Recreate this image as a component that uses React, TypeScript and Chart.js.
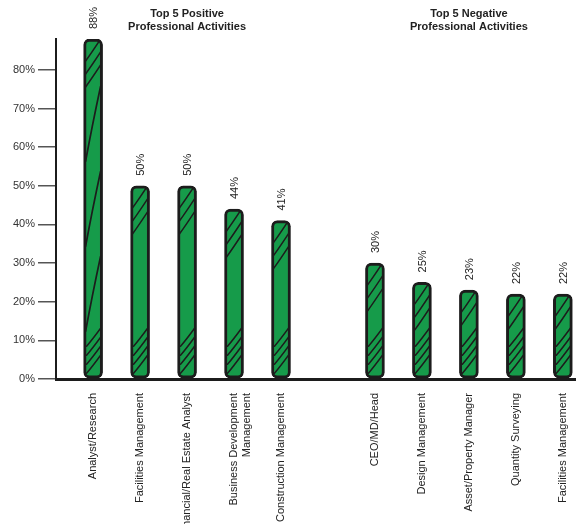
import React, { useEffect, useRef } from "react";
import { Chart, registerables } from "chart.js";

Chart.register(...registerables);

// Job categories, their slot on the x axis (slot 5 is the gap between groups) and the share in %
const categories: (string | string[])[] = [
  "Analyst/Research",
  "Facilities Management",
  "Financial/Real Estate Analyst",
  ["Business Development", "Management"],
  "Construction Management",
  "CEO/MD/Head",
  "Design Management",
  "Asset/Property Manager",
  "Quantity Surveying",
  "Facilities Management",
];
const positions = [0, 1, 2, 3, 4, 6, 7, 8, 9, 10];
const values = [88, 50, 50, 44, 41, 30, 25, 23, 22, 22];

const groupTitles = [
  ["Top 5 Positive", "Professional Activities"],
  ["Top 5 Negative", "Professional Activities"],
];
const groupCenters = [2, 8];

const yTicks = [0, 10, 20, 30, 40, 50, 60, 70, 80];

const FONT = "'Liberation Sans', Arial, sans-serif";
const INK = "#1c1c1c";
const GREEN = "#169b4a";

// Percent labels written upward above each bar
const valueLabels = {
  id: "valueLabels",
  afterDatasetsDraw(chart: any) {
    const { ctx } = chart;
    const meta = chart.getDatasetMeta(0);
    ctx.save();
    ctx.font = `11px ${FONT}`;
    ctx.fillStyle = "#222";
    ctx.textAlign = "left";
    ctx.textBaseline = "middle";
    meta.data.forEach((bar: any, i: number) => {
      ctx.save();
      ctx.translate(bar.x + 1, bar.y - 10);
      ctx.rotate(-Math.PI / 2);
      ctx.fillText(`${values[i]}%`, 0, 0);
      ctx.restore();
    });
    ctx.restore();
  },
};

// Pencil-like strokes inside each bar
const sketchStrokes = {
  id: "sketchStrokes",
  afterDatasetsDraw(chart: any) {
    const { ctx } = chart;
    const meta = chart.getDatasetMeta(0);
    ctx.save();
    ctx.strokeStyle = INK;
    ctx.lineCap = "round";
    meta.data.forEach((bar: any) => {
      const w = bar.width;
      const left = bar.x - w / 2 + 2;
      const right = bar.x + w / 2 - 2;
      const top = bar.y + 2;
      const base = bar.base - 2;
      const h = base - top;
      ctx.save();
      ctx.beginPath();
      ctx.rect(left, top, right - left, base - top);
      ctx.clip();
      const stroke = (x0: number, y0: number, x1: number, y1: number) => {
        ctx.beginPath();
        ctx.moveTo(x0, y0);
        ctx.quadraticCurveTo((x0 + x1) / 2 - 1, (y0 + y1) / 2 + 2, x1, y1);
        ctx.stroke();
      };
      ctx.lineWidth = 1.5;
      // hatching just under the top of the bar
      for (let k = 0; k < 3; k++) {
        const y0 = top + 20 + k * 13;
        if (y0 < base - 45) stroke(left, y0, right, y0 - 22);
      }
      // hatching near the foot of the bar
      for (let k = 0; k < 4; k++) {
        const yb = base - 3 - k * 9;
        stroke(left + 1, yb, right, yb - 18);
      }
      // long strokes through the middle of tall bars
      if (h > 200) {
        ctx.lineWidth = 1.7;
        let s = base - 45;
        while (s > top + 80) {
          stroke(left, s, right, s - 75);
          s -= 85;
        }
      }
      ctx.restore();
    });
    ctx.restore();
  },
};

// Two-line bold captions above each group of bars
const groupCaptions = {
  id: "groupCaptions",
  afterDraw(chart: any) {
    const { ctx } = chart;
    const xs = chart.scales.x;
    ctx.save();
    ctx.font = `bold 11px ${FONT}`;
    ctx.fillStyle = "#222";
    ctx.textAlign = "center";
    ctx.textBaseline = "middle";
    groupTitles.forEach((lines, g) => {
      const cx = xs.getPixelForValue(groupCenters[g]);
      lines.forEach((line, j) => ctx.fillText(line, cx, 14 + j * 13));
    });
    ctx.restore();
  },
};

export default function App() {
  const canvasRef = useRef<HTMLCanvasElement | null>(null);

  useEffect(() => {
    if (!canvasRef.current) return;
    const chart = new Chart(canvasRef.current, {
      type: "bar",
      data: {
        datasets: [
          {
            data: positions.map((x, i) => ({ x, y: values[i] })),
            backgroundColor: GREEN,
            borderColor: INK,
            borderWidth: 3,
            borderRadius: 6,
            borderSkipped: false,
            barThickness: 19,
          },
        ],
      },
      options: {
        responsive: false,
        animation: false,
        layout: { padding: { top: 39, left: 0, right: 0, bottom: 0 } },
        plugins: {
          legend: { display: false },
          tooltip: { enabled: false },
        },
        scales: {
          x: {
            type: "linear",
            offset: false,
            min: -0.79,
            max: 10.28,
            afterBuildTicks(scale: any) {
              scale.ticks = positions.map((v) => ({ value: v }));
            },
            afterFit(scale: any) {
              scale.height = 145;
              scale.paddingLeft = 0;
              scale.paddingRight = 0;
            },
            grid: { display: false, drawTicks: false },
            border: { display: true, color: INK, width: 3 },
            ticks: {
              autoSkip: false,
              minRotation: 90,
              maxRotation: 90,
              padding: 14,
              color: "#222",
              font: { family: FONT, size: 11 },
              callback(value: any) {
                const idx = positions.indexOf(Number(value));
                return idx >= 0 ? (categories[idx] as any) : "";
              },
            },
          },
          y: {
            min: 0,
            max: 88,
            afterBuildTicks(scale: any) {
              scale.ticks = yTicks.map((v) => ({ value: v }));
            },
            afterFit(scale: any) {
              scale.width = 56;
              scale.paddingTop = 0;
              scale.paddingBottom = 0;
            },
            grid: {
              drawOnChartArea: false,
              drawTicks: true,
              tickLength: 18,
              color: "#555",
              lineWidth: 1.5,
            },
            border: { display: true, color: INK, width: 2 },
            ticks: {
              padding: 3,
              color: "#333",
              font: { family: FONT, size: 11 },
              callback(value: any) {
                return `${value}%`;
              },
            },
          },
        },
      },
      plugins: [sketchStrokes, valueLabels, groupCaptions],
    } as any);
    return () => chart.destroy();
  }, []);

  return (
    <div style={{ position: "fixed", left: 0, top: 0, width: 576, height: 524, background: "#fff" }}>
      <canvas ref={canvasRef} width={576} height={524} style={{ display: "block" }} />
    </div>
  );
}
